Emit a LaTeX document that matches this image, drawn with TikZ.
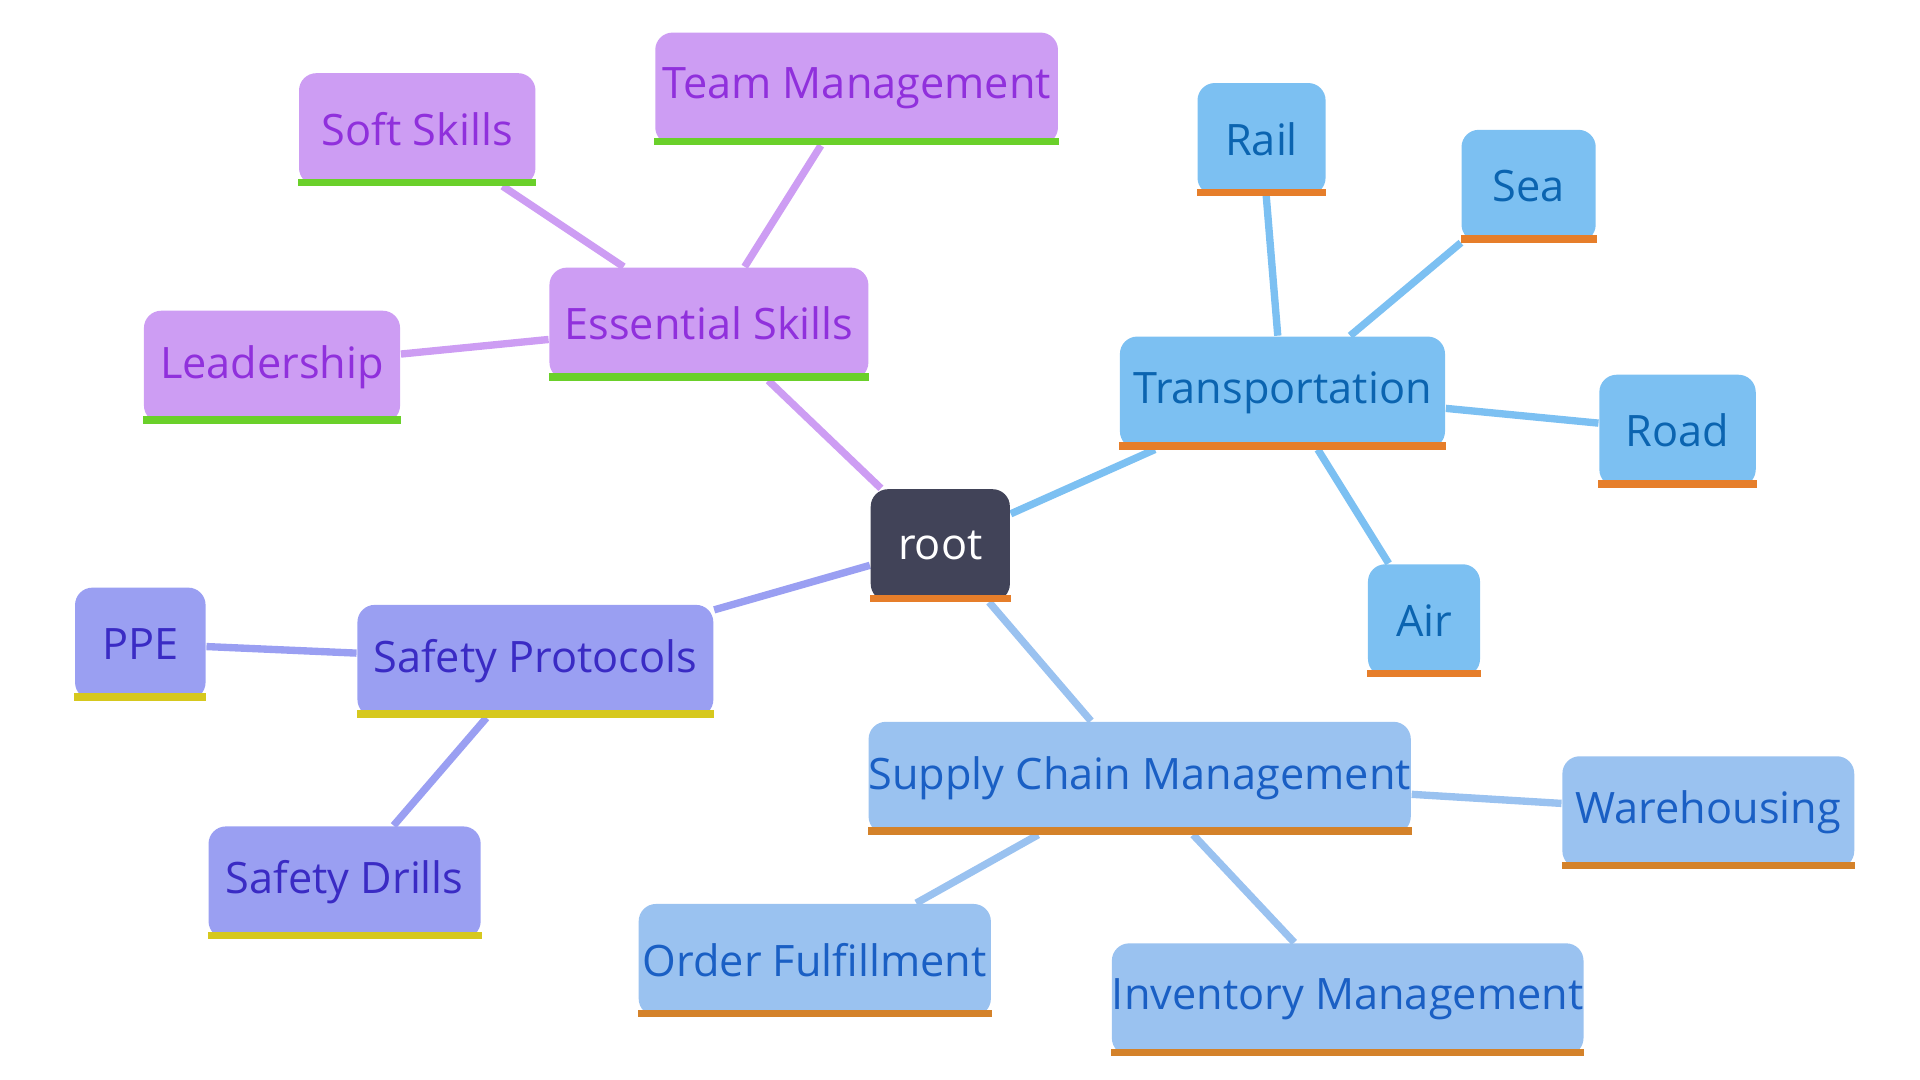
\documentclass[tikz,border=0pt]{standalone}
\usepackage{fontspec}
\setmainfont{Open Sans}
\usetikzlibrary{backgrounds}

\definecolor{skillfill}{HTML}{CD9DF3}
\definecolor{skilltext}{HTML}{9030DC}
\definecolor{skillbar}{HTML}{6AD02A}
\definecolor{transfill}{HTML}{7CC0F2}
\definecolor{transtext}{HTML}{0B64B0}
\definecolor{transbar}{HTML}{E67E2A}
\definecolor{safefill}{HTML}{9A9FF2}
\definecolor{safetext}{HTML}{3A2BC4}
\definecolor{safebar}{HTML}{D6C81E}
\definecolor{supfill}{HTML}{9AC2F0}
\definecolor{suptext}{HTML}{1A5FC4}
\definecolor{supbar}{HTML}{D4822A}
\definecolor{rootfill}{HTML}{414358}

\tikzset{
  box/.style={rectangle, rounded corners=4pt, minimum height=0.91cm, inner sep=0pt,
    font=\fontsize{10}{12}\selectfont},
  skill/.style={box, fill=skillfill, text=skilltext},
  trans/.style={box, fill=transfill, text=transtext},
  safe/.style={box, fill=safefill, text=safetext},
  sup/.style={box, fill=supfill, text=suptext},
  link/.style={line width=1.7pt}
}

\begin{document}
\begin{tikzpicture}[x=0.01cm, y=-0.01cm]
        \useasboundingbox (0,0) rectangle (1560,877);

        \node[box, fill=rootfill, text=white, minimum width=1.13cm] (root) at (764,443) {root};

        \node[skill, minimum width=2.59cm] (ess) at (576,263) {Essential Skills};
        \node[skill, minimum width=3.27cm] (team) at (696,72) {Team Management};
        \node[skill, minimum width=1.92cm] (soft) at (339,105) {Soft Skills};
        \node[skill, minimum width=2.08cm] (lead) at (221,298) {Leadership};

        \node[trans, minimum width=2.64cm] (trans) at (1042,319) {Transportation};
        \node[trans, minimum width=1.04cm] (rail) at (1025,113) {Rail};
        \node[trans, minimum width=1.09cm] (sea) at (1242,151) {Sea};
        \node[trans, minimum width=1.27cm] (road) at (1363,350) {Road};
        \node[trans, minimum width=0.91cm] (air) at (1157,504) {Air};

        \node[safe, minimum width=2.89cm] (safety) at (435,537) {Safety Protocols};
        \node[safe, minimum width=1.06cm] (ppe) at (114,523) {PPE};
        \node[safe, minimum width=2.21cm] (drills) at (280,717) {Safety Drills};

        \node[sup, minimum width=4.34cm] (scm) at (926,632) {Supply Chain Management};
        \node[sup, minimum width=2.37cm] (ware) at (1388,660) {Warehousing};
        \node[sup, minimum width=2.86cm] (order) at (662,780) {Order Fulfillment};
        \node[sup, minimum width=3.83cm] (inv) at (1095,812) {Inventory Management};

        % bottom bars
        \foreach \n/\c in {root/transbar, ess/skillbar, team/skillbar, soft/skillbar, lead/skillbar,
            trans/transbar, rail/transbar, sea/transbar, road/transbar, air/transbar,
            safety/safebar, ppe/safebar, drills/safebar,
            scm/supbar, ware/supbar, order/supbar, inv/supbar}
          \fill[\c] (\n.south west) rectangle ([yshift=0.06cm]\n.south east);

        \begin{scope}[on background layer]
          \draw[link, skillfill] (root) -- (ess);
          \draw[link, skillfill] (ess) -- (team);
          \draw[link, skillfill] (ess) -- (soft);
          \draw[link, skillfill] (ess) -- (lead);

          \draw[link, transfill] (root) -- (trans);
          \draw[link, transfill] (trans) -- (rail);
          \draw[link, transfill] (trans) -- (sea);
          \draw[link, transfill] (trans) -- (road);
          \draw[link, transfill] (trans) -- (air);

          \draw[link, safefill] (root) -- (safety);
          \draw[link, safefill] (safety) -- (ppe);
          \draw[link, safefill] (safety) -- (drills);

          \draw[link, supfill] (root) -- (scm);
          \draw[link, supfill] (scm) -- (ware);
          \draw[link, supfill] (scm) -- (order);
          \draw[link, supfill] (scm) -- (inv);
        \end{scope}
    \end{tikzpicture}
\end{document}
